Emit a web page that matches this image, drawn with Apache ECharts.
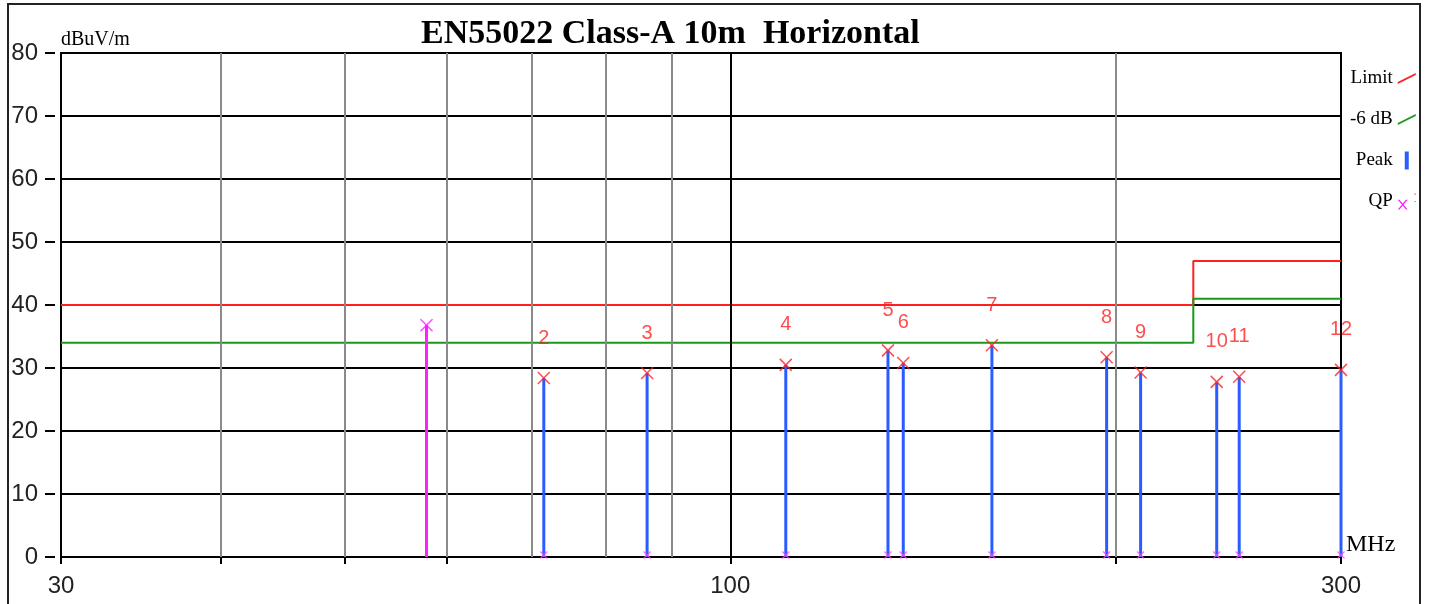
<!DOCTYPE html>
<html>
<head>
<meta charset="utf-8">
<script src="https://cdn.jsdelivr.net/npm/echarts@6/dist/echarts.min.js"></script>
<style>
  html, body { margin: 0; padding: 0; background: #fff; }
  #main { width: 1429px; height: 604px; }
</style>
</head>
<body>
<div id="main"></div>
<script>
// 限值线 (MHz / dBuV/m)
const limitFreq = [30, 230, 230, 300];
const limitLevel = [40, 40, 47, 47];
const marginLevel = [34, 34, 41, 41];

// 峰值测量点
const peakFreq = [71.5, 86.1, 110.5, 132.8, 136.5, 160.1, 196.8, 209.2, 239.9, 249.8, 300];
const peakLevel = [28.4, 29.2, 30.5, 32.8, 30.8, 33.6, 31.7, 29.3, 27.8, 28.6, 29.7];
const peakNames = ['2', '3', '4', '5', '6', '7', '8', '9', '10', '11', '12'];

// QP 测量点
const qpFreq = [57.9];
const qpLevel = [36.8];
const qpFloor = [0, 0, 0, 0, 0, 0, 0, 0, 0, 0, 0];

// 坐标轴
const gridFreqGray = [40, 50, 60, 70, 80, 90, 200];
const gridFreqBlack = [100];
const xTickFreq = [30, 40, 50, 60, 100, 200, 300];
const xLabelFreq = [30, 100, 300];

const pair = (xs, ys) => xs.map((x, i) => [x, ys[i]]);
const crossPath = 'path://M0,0L10,10M10,0L0,10';

const chart = echarts.init(document.getElementById('main'));

chart.setOption({
  animation: false,
  backgroundColor: '#fff',
  title: {
    text: 'EN55022 Class-A 10m  Horizontal',
    left: 416,
    top: 12,
    textStyle: { fontFamily: 'Liberation Serif', fontSize: 34, fontWeight: 'bold', color: '#000' }
  },
  legend: {
    orient: 'vertical',
    left: 1345,
    top: 64,
    align: 'right',
    itemGap: 22,
    itemWidth: 18,
    itemHeight: 18,
    selectedMode: false,
    textStyle: { fontFamily: 'Liberation Serif', fontSize: 19, color: '#000', width: 48, align: 'right' },
    data: [
      { name: 'Limit', icon: 'path://M0,9L18,0L18,2L0,11Z' },
      { name: '-6 dB', icon: 'path://M0,9L18,0L18,2L0,11Z' },
      { name: 'Peak', icon: 'path://M8,0L10,0L10,9L8,9Z' },
      { name: 'QP', icon: 'path://M0,0L1.4,0L8,8L6.6,8Z M6.6,0L8,0L1.4,8L0,8Z M13.5,-5L14.5,-5L14.5,-4L13.5,-4Z M13.5,1L14.5,1L14.5,2L13.5,2Z' }
    ]
  },
  grid: {
    left: 61, right: 88, top: 53, bottom: 47,
    show: true, borderColor: '#000', borderWidth: 2
  },
  xAxis: [
    {
      type: 'log', logBase: 10, min: 30, max: 300,
      name: 'MHz', nameLocation: 'end', nameGap: 5,
      nameTextStyle: { fontFamily: 'Liberation Serif', fontSize: 24, color: '#000', align: 'left', verticalAlign: 'bottom' },
      axisLine: { show: true, lineStyle: { color: '#000', width: 2 } },
      axisTick: { show: false },
      axisLabel: { show: false },
      splitLine: { show: false }
    },
    {
      type: 'log', logBase: 10, min: 30, max: 300,
      position: 'bottom', offset: 5,
      axisLine: { show: false },
      axisTick: { show: true, length: 7, customValues: xTickFreq, lineStyle: { color: '#000', width: 2 } },
      axisLabel: {
        customValues: xLabelFreq, margin: 12,
        fontFamily: 'Liberation Sans', fontSize: 24, color: '#222'
      },
      splitLine: { show: false }
    }
  ],
  yAxis: [
    {
      type: 'value', min: 0, max: 80, interval: 10, position: 'left',
      name: 'dBuV/m', nameLocation: 'end', nameGap: 3,
      nameTextStyle: { fontFamily: 'Liberation Serif', fontSize: 20, color: '#000', align: 'left', verticalAlign: 'bottom' },
      axisLine: { show: true, lineStyle: { color: '#000', width: 2 } },
      axisTick: { show: false },
      axisLabel: { show: false },
      splitLine: { show: true, lineStyle: { color: '#000', width: 2 } }
    },
    {
      type: 'value', min: 0, max: 80, interval: 10, position: 'left', offset: 6,
      axisLine: { show: false },
      axisTick: { show: true, length: 10, lineStyle: { color: '#000', width: 2 } },
      axisLabel: { margin: 17, fontFamily: 'Liberation Sans', fontSize: 24, color: '#222' },
      splitLine: { show: false }
    }
  ],
  series: [
    {
      // 竖向网格线
      name: 'grid', type: 'line', data: [], silent: true,
      markLine: {
        silent: true, symbol: 'none', animation: false,
        label: { show: false },
        data: gridFreqGray.map(f => ({ xAxis: f, lineStyle: { color: '#8a8a8a', width: 2, type: 'solid' } }))
          .concat(gridFreqBlack.map(f => ({ xAxis: f, lineStyle: { color: '#000', width: 2, type: 'solid' } })))
      }
    },
    {
      name: 'Limit', type: 'line', data: pair(limitFreq, limitLevel),
      symbol: 'none', color: '#ff1f1f', lineStyle: { width: 2 }, z: 3
    },
    {
      name: '-6 dB', type: 'line', data: pair(limitFreq, marginLevel),
      symbol: 'none', color: '#1a9a1a', lineStyle: { width: 2 }, z: 3
    },
    {
      name: 'Peak', type: 'bar', data: pair(peakFreq, peakLevel),
      barWidth: 3, barGap: '-100%', color: '#2a5cff', z: 4
    },
    {
      name: 'QP', type: 'bar', data: pair(qpFreq, qpLevel),
      barWidth: 3, barGap: '-100%', color: '#ff1fff', z: 4
    },
    {
      // 峰值标记
      name: 'PeakMark', type: 'scatter', data: pair(peakFreq, peakLevel),
      symbol: crossPath, symbolSize: 12,
      itemStyle: { color: 'none', borderColor: '#ff2020', borderWidth: 1.5 },
      label: {
        show: true, position: 'inside', offset: [0, -40],
        formatter: p => peakNames[p.dataIndex],
        fontFamily: 'Liberation Sans', fontSize: 20, color: '#ff2020'
      },
      z: 5
    },
    {
      name: 'QPMark', type: 'scatter', data: pair(qpFreq, qpLevel),
      symbol: crossPath, symbolSize: 12,
      itemStyle: { color: 'none', borderColor: '#ff1fff', borderWidth: 1.5 },
      z: 5
    },
    {
      name: 'QPFloor', type: 'scatter', data: pair(peakFreq, qpFloor),
      symbol: crossPath, symbolSize: 7, symbolOffset: [0, -2],
      itemStyle: { color: 'none', borderColor: '#ff40ff', borderWidth: 1.2 },
      z: 5
    }
  ],
  graphic: [
    {
      type: 'rect', silent: true, z: 100,
      shape: { x: 8, y: 4, width: 1412, height: 620 },
      style: { fill: 'none', stroke: '#222', lineWidth: 2 }
    }
  ]
});
</script>
</body>
</html>
